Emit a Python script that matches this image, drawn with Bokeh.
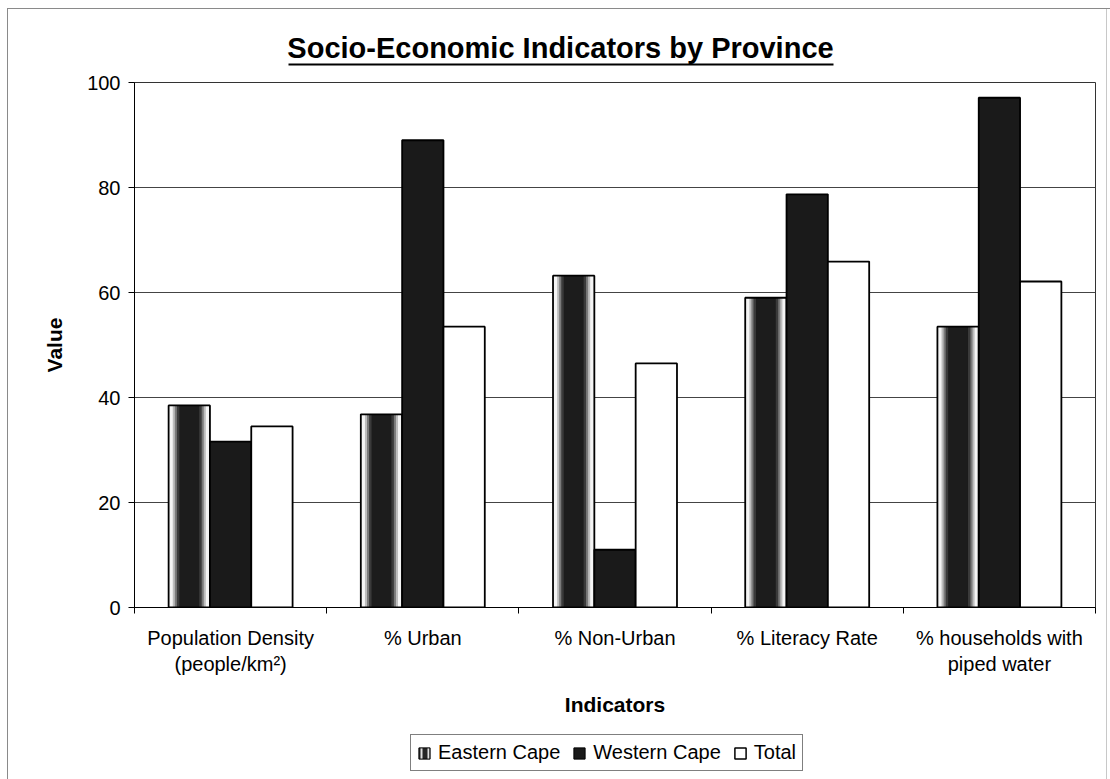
from bokeh.plotting import figure
from bokeh.layouts import column
from bokeh.models import ColumnDataSource, FixedTicker, Legend, LegendItem, Range1d
from bokeh.core.properties import value
from bokeh.embed import file_html
from bokeh.resources import INLINE

categories = ["Population Density\n(people/km²)", "% Urban", "% Non-Urban",
              "% Literacy Rate", "% households with\npiped water"]
eastern_cape = [38.5, 36.8, 63.2, 59.0, 53.5]
western_cape = [31.6, 89.0, 11.0, 78.7, 97.1]
total = [34.5, 53.5, 46.5, 65.9, 62.1]
y_ticks = [0, 20, 40, 60, 80, 100]
title_text = "Socio-Economic Indicators by Province"

FONT = "Liberation Sans"
BAR_W = 0.215
LEFT, RIGHT = 134, 15          # frame left / right margins (px)
TH = 72                        # title strip height
MH = 651                       # main chart height
LH = 779 - TH - MH             # legend strip height
centers = [i + 0.5 for i in range(len(categories))]

def shifted(off):
    return [c + off for c in centers]

def bare(fig):
    fig.outline_line_color = None
    fig.background_fill_alpha = 0
    fig.border_fill_alpha = 0
    fig.xgrid.visible = False
    fig.ygrid.visible = False

# ---------------- title strip (data coords = page pixels) ----------------
tf = figure(width=1110, height=TH, x_range=Range1d(LEFT, 1110 - RIGHT),
            y_range=Range1d(TH, 0), output_backend="svg", toolbar_location=None,
            x_axis_type=None, y_axis_type=None, min_border_left=LEFT,
            min_border_right=RIGHT, min_border_top=0, min_border_bottom=0)
bare(tf)
tf.text(x=[560], y=[47], text=[title_text], text_align="center",
        text_baseline="middle", text_font=value(FONT), text_font_size="29px",
        text_font_style="bold", text_color="black")
tf.segment(x0=[288], y0=[64], x1=[833], y1=[64], line_color="black", line_width=2)

# ---------------- main chart ----------------
src_ec = ColumnDataSource(dict(x=shifted(-BAR_W), top=eastern_cape))
src_wc = ColumnDataSource(dict(x=shifted(0.0), top=western_cape))
src_tot = ColumnDataSource(dict(x=shifted(BAR_W), top=total))

p = figure(width=1110, height=MH, x_range=(0, len(categories)), y_range=(0, 100),
           output_backend="svg", toolbar_location=None,
           min_border_left=LEFT, min_border_right=RIGHT, min_border_top=82 - TH,
           min_border_bottom=MH - (607 - TH))
p.background_fill_color = "white"
p.border_fill_alpha = 0
p.outline_line_color = "#333333"
p.outline_line_width = 1

# Eastern Cape: cylinder-like shaded bar (layered)
p.vbar(x="x", top="top", width=BAR_W, bottom=0, source=src_ec,
       fill_color="#f4f4f4", line_color=None)
for frac, col in [(0.80, "#bdbdbd"), (0.70, "#7a7a7a"), (0.60, "#3a3a3a"),
                  (0.48, "#1c1c1c")]:
    p.vbar(x="x", top="top", width=BAR_W * frac, bottom=0, source=src_ec,
           fill_color=col, line_color=None)
p.vbar(x="x", top="top", width=BAR_W, bottom=0, source=src_ec,
       fill_color=None, line_color="black", line_width=1.8)
p.vbar(x="x", top="top", width=BAR_W, bottom=0, source=src_wc,
       fill_color="#1a1a1a", line_color="black", line_width=1.8)
p.vbar(x="x", top="top", width=BAR_W, bottom=0, source=src_tot,
       fill_color="white", line_color="black", line_width=1.8)

# axes
p.xaxis.ticker = FixedTicker(ticks=centers, minor_ticks=list(range(len(categories) + 1)))
p.xaxis.major_label_overrides = {c: lab for c, lab in zip(centers, categories)}
p.xaxis.major_tick_line_color = None
p.xaxis.minor_tick_line_color = "black"
p.xaxis.minor_tick_out = 6
p.xaxis.minor_tick_in = 0
p.xaxis.axis_line_color = "black"
p.xaxis.major_label_standoff = 13
p.xaxis.axis_label = "Indicators"
p.xaxis.axis_label_standoff = 15

p.yaxis.ticker = FixedTicker(ticks=y_ticks)
p.yaxis.minor_tick_line_color = None
p.yaxis.major_tick_out = 6
p.yaxis.major_tick_in = 0
p.yaxis.axis_line_color = "black"
p.yaxis.major_label_standoff = 8
p.yaxis.axis_label = "Value"
p.yaxis.axis_label_standoff = 18

for ax in (p.xaxis, p.yaxis):
    ax.major_label_text_font = FONT
    ax.major_label_text_font_size = "20px"
    ax.major_label_text_color = "black"
    ax.axis_label_text_font = FONT
    ax.axis_label_text_font_size = "21px"
    ax.axis_label_text_font_style = "bold"
    ax.axis_label_text_color = "black"

p.xgrid.grid_line_color = None
p.ygrid.ticker = FixedTicker(ticks=y_ticks)
p.ygrid.grid_line_color = "#444444"
p.ygrid.grid_line_width = 1

# ---------------- legend strip ----------------
# swatch renderers share the series sources; they are muted with a fully
# transparent muted style, so only their legend swatches show
lf = figure(width=1110, height=LH, x_range=(0, len(categories)), y_range=(500, 501),
            output_backend="svg", toolbar_location=None, x_axis_type=None,
            y_axis_type=None, min_border_left=LEFT, min_border_right=RIGHT,
            min_border_top=0, min_border_bottom=0)
bare(lf)
hidden = dict(muted_fill_alpha=0, muted_line_alpha=0, muted_hatch_alpha=0)
l_ec = lf.vbar(x="x", top="top", width=BAR_W, bottom=0, source=src_ec,
               fill_color="#262626", line_color="black", line_width=1,
               hatch_pattern="|", hatch_color="#e0e0e0", hatch_scale=7, hatch_weight=2,
               **hidden)
l_wc = lf.vbar(x="x", top="top", width=BAR_W, bottom=0, source=src_wc,
               fill_color="#1a1a1a", line_color="black", line_width=1, **hidden)
l_tot = lf.vbar(x="x", top="top", width=BAR_W, bottom=0, source=src_tot,
                fill_color="white", line_color="black", line_width=1.5, **hidden)
for r in (l_ec, l_wc, l_tot):
    r.muted = True

legend = Legend(items=[LegendItem(label="Eastern Cape", renderers=[l_ec]),
                       LegendItem(label="Western Cape", renderers=[l_wc]),
                       LegendItem(label="Total", renderers=[l_tot])],
                orientation="horizontal", location=(410 - LEFT, 779 - 771))
legend.label_text_font = FONT
legend.label_text_font_size = "20px"
legend.label_text_color = "black"
legend.border_line_color = "black"
legend.border_line_width = 1
legend.glyph_width = 14
legend.glyph_height = 14
legend.label_standoff = 7
legend.spacing = 12
legend.padding = 6
legend.margin = 0
legend.background_fill_alpha = 1
lf.add_layout(legend, "center")

border_css = ("linear-gradient(#8a8a8a,#8a8a8a) 7px 8px / 1px 100% no-repeat, "
              "linear-gradient(#8a8a8a,#8a8a8a) 7px 8px / 100% 1px no-repeat, "
              "linear-gradient(#c8c8c8,#c8c8c8) 1106px 8px / 1px 100% no-repeat")
layout = column(tf, p, lf, spacing=0, styles={"background": border_css})

open("out.html", "w").write(file_html(layout, INLINE))
